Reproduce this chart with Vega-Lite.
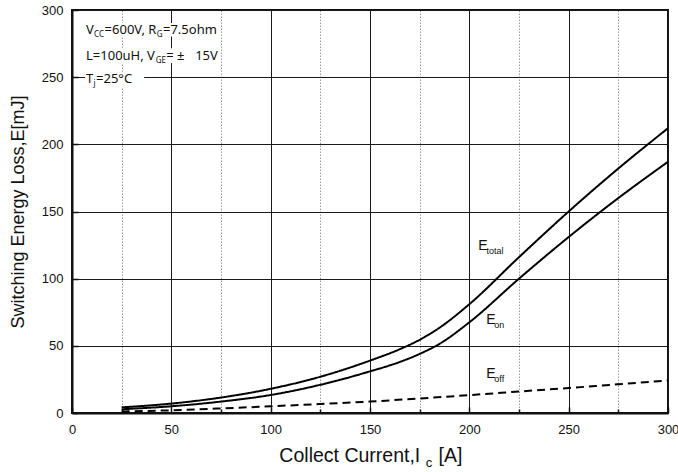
{
  "$schema": "https://vega.github.io/schema/vega-lite/v6.json",
  "width": 596,
  "height": 403,
  "autosize": "none",
  "padding": {"left": 72, "top": 10, "right": 10, "bottom": 59},
  "background": "white",
  "config": {
    "view": {"stroke": "#111", "strokeWidth": 2},
    "axis": {"labelColor": "#111", "titleColor": "#111", "labelFont": "Liberation Sans", "titleFont": "Liberation Sans", "labelFontSize": 13, "titleFontWeight": "normal"},
    "text": {"font": "Liberation Sans", "color": "#111"}
  },
  "datasets": {
    "curves": [
      {"I": 25, "E": 4.2, "s": "Etotal"}, {"I": 50, "E": 7.0, "s": "Etotal"}, {"I": 75, "E": 11.5, "s": "Etotal"}, {"I": 100, "E": 18, "s": "Etotal"}, {"I": 125, "E": 27, "s": "Etotal"}, {"I": 150, "E": 39, "s": "Etotal"}, {"I": 165, "E": 47.5, "s": "Etotal"}, {"I": 175, "E": 54.5, "s": "Etotal"}, {"I": 185, "E": 63.5, "s": "Etotal"}, {"I": 200, "E": 81, "s": "Etotal"}, {"I": 225, "E": 116, "s": "Etotal"}, {"I": 250, "E": 150, "s": "Etotal"}, {"I": 275, "E": 182, "s": "Etotal"}, {"I": 300, "E": 212, "s": "Etotal"},
      {"I": 25, "E": 2.8, "s": "Eon"}, {"I": 50, "E": 5.0, "s": "Eon"}, {"I": 75, "E": 8.5, "s": "Eon"}, {"I": 100, "E": 13.4, "s": "Eon"}, {"I": 125, "E": 21, "s": "Eon"}, {"I": 150, "E": 31, "s": "Eon"}, {"I": 165, "E": 38, "s": "Eon"}, {"I": 175, "E": 44, "s": "Eon"}, {"I": 185, "E": 51.5, "s": "Eon"}, {"I": 200, "E": 67.5, "s": "Eon"}, {"I": 225, "E": 100, "s": "Eon"}, {"I": 250, "E": 131, "s": "Eon"}, {"I": 275, "E": 160, "s": "Eon"}, {"I": 300, "E": 187, "s": "Eon"},
      {"I": 25, "E": 1.2, "s": "Eoff"}, {"I": 50, "E": 2.0, "s": "Eoff"}, {"I": 75, "E": 3.4, "s": "Eoff"}, {"I": 100, "E": 5, "s": "Eoff"}, {"I": 125, "E": 6.7, "s": "Eoff"}, {"I": 150, "E": 8.5, "s": "Eoff"}, {"I": 175, "E": 10.8, "s": "Eoff"}, {"I": 200, "E": 13.3, "s": "Eoff"}, {"I": 225, "E": 16, "s": "Eoff"}, {"I": 250, "E": 18.6, "s": "Eoff"}, {"I": 275, "E": 21.4, "s": "Eoff"}, {"I": 300, "E": 24.2, "s": "Eoff"}
    ],
    "boxes": [
      {"x": 6.6, "x2": 74, "y": 280.2, "y2": 290.3},
      {"x": 6.6, "x2": 74, "y": 260.6, "y2": 271.6},
      {"x": 6.6, "x2": 36.3, "y": 242.2, "y2": 253.6}
    ],
    "notes": [
      {"x": 7.06, "y": 281.8, "t": "V", "k": "main"},
      {"x": 11.1, "y": 279.9, "t": "CC", "k": "sub"},
      {"x": 16.4, "y": 281.8, "t": "=600V, R", "k": "main"},
      {"x": 42.6, "y": 279.9, "t": "G", "k": "sub"},
      {"x": 45.8, "y": 281.8, "t": "=7.5ohm", "k": "main"},
      {"x": 7.06, "y": 262.8, "t": "L=100uH, V", "k": "main"},
      {"x": 42.1, "y": 260.9, "t": "GE", "k": "sub"},
      {"x": 47.4, "y": 262.8, "t": "= ±", "k": "main"},
      {"x": 62.0, "y": 262.8, "t": "15V", "k": "main"},
      {"x": 7.06, "y": 245.3, "t": "T", "k": "main"},
      {"x": 10.8, "y": 243.4, "t": "j", "k": "sub"},
      {"x": 12.1, "y": 245.3, "t": "=25°C", "k": "main"}
    ],
    "labels": [
      {"x": 204.5, "y": 121.3, "t": "E", "k": "main"},
      {"x": 208.6, "y": 118.6, "t": "total", "k": "sub"},
      {"x": 208.5, "y": 66.3, "t": "E", "k": "main"},
      {"x": 212.6, "y": 63.5, "t": "on", "k": "sub"},
      {"x": 208.5, "y": 26.1, "t": "E", "k": "main"},
      {"x": 212.6, "y": 22.8, "t": "off", "k": "sub"}
    ],
    "xtitle": [
      {"x": 175.3, "y": -36.5, "t": "Collect Current,I", "k": "main"},
      {"x": 178.0, "y": -40.2, "t": "c", "k": "sub"},
      {"x": 184.5, "y": -36.5, "t": "[A]", "k": "tail"}
    ]
  },
  "layer": [
    {
      "data": {"name": "curves"},
      "mark": {"type": "line", "strokeWidth": 2, "interpolate": "monotone", "color": "#000"},
      "encoding": {
        "x": {"field": "I", "type": "quantitative", "scale": {"domain": [0, 300], "nice": false},
          "axis": {"orient": "bottom", "values": [0, 25, 50, 75, 100, 125, 150, 175, 200, 225, 250, 275, 300],
            "labelExpr": "datum.value % 50 === 0 ? datum.label : ''", "labelFlush": false, "labelPadding": 16,
            "title": null, "domainColor": "#111", "domainWidth": 2, "tickColor": "#111", "tickWidth": 1.5,
            "tickSize": {"condition": {"test": "datum.value % 50 !== 0", "value": -4}, "value": -6},
            "grid": true,
            "gridDash": {"condition": {"test": "datum.value % 50 !== 0", "value": [1.5, 1.5]}, "value": []},
            "gridColor": {"condition": {"test": "datum.value % 50 !== 0", "value": "#9a9a9a"}, "value": "#1a1a1a"},
            "gridWidth": 1}},
        "y": {"field": "E", "type": "quantitative", "scale": {"domain": [0, 300], "nice": false},
          "axis": {"orient": "left", "values": [0, 25, 50, 75, 100, 125, 150, 175, 200, 225, 250, 275, 300],
            "labelExpr": "datum.value % 50 === 0 ? datum.label : ''", "labelFlush": false, "labelPadding": 15,
            "title": "Switching Energy Loss,E[mJ]", "titleFontSize": 18, "titlePadding": 14,
            "domainColor": "#111", "domainWidth": 2, "tickColor": "#111", "tickWidth": 1.5,
            "tickSize": {"condition": {"test": "datum.value % 50 !== 0", "value": -4}, "value": -6},
            "grid": true,
            "gridDash": {"condition": {"test": "datum.value % 50 !== 0", "value": [1.5, 1.5]}, "value": []},
            "gridColor": {"condition": {"test": "datum.value % 50 !== 0", "value": "#9a9a9a"}, "value": "#1a1a1a"},
            "gridWidth": 1}},
        "detail": {"field": "s"},
        "strokeDash": {"field": "s", "type": "nominal", "scale": {"domain": ["Etotal", "Eon", "Eoff"], "range": [[1, 0], [1, 0], [8, 5]]}, "legend": null}
      }
    },
    {
      "data": {"name": "boxes"},
      "mark": {"type": "rect", "color": "white"},
      "encoding": {
        "x": {"field": "x", "type": "quantitative"},
        "x2": {"field": "x2"},
        "y": {"field": "y", "type": "quantitative"},
        "y2": {"field": "y2"}
      }
    },
    {
      "data": {"name": "notes"},
      "transform": [{"filter": "datum.k === 'main'"}],
      "mark": {"type": "text", "font": "Noto Sans", "fontSize": 13, "align": "left", "baseline": "alphabetic"},
      "encoding": {"x": {"field": "x", "type": "quantitative"}, "y": {"field": "y", "type": "quantitative"}, "text": {"field": "t"}}
    },
    {
      "data": {"name": "notes"},
      "transform": [{"filter": "datum.k === 'sub'"}],
      "mark": {"type": "text", "font": "Noto Sans", "fontSize": 8, "align": "left", "baseline": "alphabetic"},
      "encoding": {"x": {"field": "x", "type": "quantitative"}, "y": {"field": "y", "type": "quantitative"}, "text": {"field": "t"}}
    },
    {
      "data": {"name": "labels"},
      "transform": [{"filter": "datum.k === 'main'"}],
      "mark": {"type": "text", "fontSize": 14, "align": "left", "baseline": "alphabetic"},
      "encoding": {"x": {"field": "x", "type": "quantitative"}, "y": {"field": "y", "type": "quantitative"}, "text": {"field": "t"}}
    },
    {
      "data": {"name": "labels"},
      "transform": [{"filter": "datum.k === 'sub'"}],
      "mark": {"type": "text", "fontSize": 9, "align": "left", "baseline": "alphabetic"},
      "encoding": {"x": {"field": "x", "type": "quantitative"}, "y": {"field": "y", "type": "quantitative"}, "text": {"field": "t"}}
    },
    {
      "data": {"name": "xtitle"},
      "transform": [{"filter": "datum.k === 'main'"}],
      "mark": {"type": "text", "fontSize": 19.5, "baseline": "alphabetic", "align": "right"},
      "encoding": {"x": {"field": "x", "type": "quantitative"}, "y": {"field": "y", "type": "quantitative"}, "text": {"field": "t"}}
    },
    {
      "data": {"name": "xtitle"},
      "transform": [{"filter": "datum.k === 'tail'"}],
      "mark": {"type": "text", "fontSize": 19.5, "baseline": "alphabetic", "align": "left"},
      "encoding": {"x": {"field": "x", "type": "quantitative"}, "y": {"field": "y", "type": "quantitative"}, "text": {"field": "t"}}
    },
    {
      "data": {"name": "xtitle"},
      "transform": [{"filter": "datum.k === 'sub'"}],
      "mark": {"type": "text", "fontSize": 13, "baseline": "alphabetic", "align": "left"},
      "encoding": {"x": {"field": "x", "type": "quantitative"}, "y": {"field": "y", "type": "quantitative"}, "text": {"field": "t"}}
    }
  ]
}
